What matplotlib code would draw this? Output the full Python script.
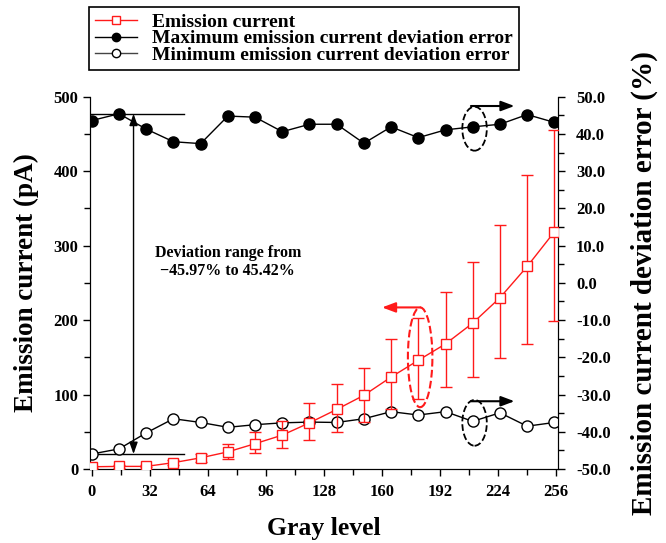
import numpy as np
import matplotlib
matplotlib.use("Agg")
import matplotlib.pyplot as plt
from matplotlib.patches import Ellipse
from matplotlib.lines import Line2D
from matplotlib.ticker import MultipleLocator, FormatStrFormatter

plt.rcParams['font.family'] = 'Liberation Serif'
plt.rcParams['font.weight'] = 'bold'

# gray levels
gray = [0, 15, 30, 45, 60, 75, 90, 105, 120, 135, 150, 165, 180, 195, 210, 225, 240, 255]
# emission current (pA)
current = [3, 3.5, 3.5, 8.5, 15, 23, 34, 45.5, 62, 80, 99, 123.5, 146, 168, 196, 230, 272, 318.5]
# max / min emission current deviation error (%)
max_dev = [43.6, 45.42, 41.3, 37.9, 37.4, 44.8, 44.5, 40.6, 42.6, 42.6, 37.5, 41.9, 39.0, 41.1, 41.9, 42.6, 45.2, 43.1]
min_dev = [-45.97, -44.6, -40.3, -36.5, -37.5, -38.8, -38.1, -37.6, -37.4, -37.5, -36.5, -34.6, -35.5, -34.6, -37.2, -34.9, -38.5, -37.5]

# error bars span the min..max deviation around each current value
cur = np.array(current)
lo = cur * (1 + np.array(min_dev) / 100)
hi = cur * (1 + np.array(max_dev) / 100)

fig = plt.figure(figsize=(6.66, 5.43), dpi=100)
ax = fig.add_axes([90 / 666, 1 - 469 / 543, 468 / 666, 372.3 / 543])
ax2 = ax.twinx()
ax.set_zorder(ax2.get_zorder() + 1)
ax.patch.set_visible(False)

red = '#ff1a1a'
ax.errorbar(gray, cur, yerr=[cur - lo, hi - cur], fmt='s-', color=red, ecolor=red,
            mfc='white', mec=red, ms=6.5, lw=1, elinewidth=1, capsize=4, capthick=1, zorder=3)

ax2.plot(gray, max_dev, 'o-', color='black', ms=8, lw=1, zorder=3)
ax2.plot(gray, min_dev, 'o-', color='black', mfc='white', ms=8, lw=1, zorder=3)

ax.set_xlim(-1, 257)
ax.set_ylim(0, 500)
ax2.set_ylim(-50, 50)

ax.xaxis.set_major_locator(MultipleLocator(32))
ax.xaxis.set_minor_locator(MultipleLocator(16))
ax.yaxis.set_major_locator(MultipleLocator(100))
ax.yaxis.set_minor_locator(MultipleLocator(50))
ax2.yaxis.set_major_locator(MultipleLocator(10))
ax2.yaxis.set_minor_locator(MultipleLocator(5))
ax2.yaxis.set_major_formatter(FormatStrFormatter('%.1f'))

for a in (ax, ax2):
    a.spines['top'].set_visible(False)
    a.tick_params(which='both', direction='out', width=1, length=5, labelsize=12)
    a.tick_params(which='minor', length=4)
ax.tick_params(axis='x', pad=6)
ax2.tick_params(axis='y', pad=8)

ax.set_xlabel('Gray level', fontsize=18.5, fontweight='bold', labelpad=12)
ax.set_ylabel('Emission current (pA)', fontsize=19.5, fontweight='bold', labelpad=10)
ax2.set_ylabel('Emission current deviation error (%)', fontsize=21, fontweight='bold', labelpad=14)

# deviation range annotation
ax2.plot([-1, 51], [45.42, 45.42], color='black', lw=1)
ax2.plot([-1, 51], [-45.97, -45.97], color='black', lw=1)
ax2.annotate('', xy=(23, -45.97), xytext=(23, 45.42),
             arrowprops=dict(arrowstyle='<|-|>,head_length=0.7,head_width=0.25',
                             mutation_scale=10, color='black', lw=1, shrinkA=0, shrinkB=0))
ax.text(75, 278, 'Deviation range from\n\u221245.97% to 45.42%', ha='center', va='center',
        fontsize=11.5, fontweight='bold', linespacing=1.15)

# ellipses with direction arrows
ax.add_patch(Ellipse((181, 150), 13.5, 134, fill=False, ls='--', lw=1.5, ec=red))
ax.annotate('', xy=(160, 217), xytext=(181, 217),
            arrowprops=dict(arrowstyle='-|>,head_length=0.8,head_width=0.3',
                            mutation_scale=10, color=red, lw=1.5, shrinkA=0, shrinkB=0))
ax2.add_patch(Ellipse((211, 41.4), 13.5, 11.8, fill=False, ls='--', lw=1.3, ec='black'))
ax2.annotate('', xy=(233, 47.5), xytext=(209, 47.5),
             arrowprops=dict(arrowstyle='-|>,head_length=0.8,head_width=0.3',
                             mutation_scale=10, color='black', lw=1.5, shrinkA=0, shrinkB=0))
ax2.add_patch(Ellipse((211, -37.6), 13.5, 12.3, fill=False, ls='--', lw=1.3, ec='black'))
ax2.annotate('', xy=(233, -31.8), xytext=(209, -31.8),
             arrowprops=dict(arrowstyle='-|>,head_length=0.8,head_width=0.3',
                             mutation_scale=10, color='black', lw=1.5, shrinkA=0, shrinkB=0))

handles = [
    Line2D([], [], color=red, marker='s', mfc='white', mec=red, ms=6, lw=1),
    Line2D([], [], color='black', marker='o', ms=6, lw=1),
    Line2D([], [], color='#444444', marker='o', mfc='white', mec='black', ms=6, lw=1),
]
labels = ['Emission current', 'Maximum emission current deviation error',
          'Minimum emission current deviation error']
leg = fig.legend(handles, labels, loc='upper left', bbox_to_anchor=(89.3 / 666, 1 - 7.3 / 543),
                 fancybox=False, edgecolor='black', framealpha=1, borderaxespad=0,
                 prop={'size': 14, 'weight': 'bold'}, labelspacing=-0.05,
                 handlelength=2.15, handletextpad=0.8, borderpad=0.3)
leg.get_frame().set_linewidth(1.2)

fig.savefig('out.png', dpi=100)
